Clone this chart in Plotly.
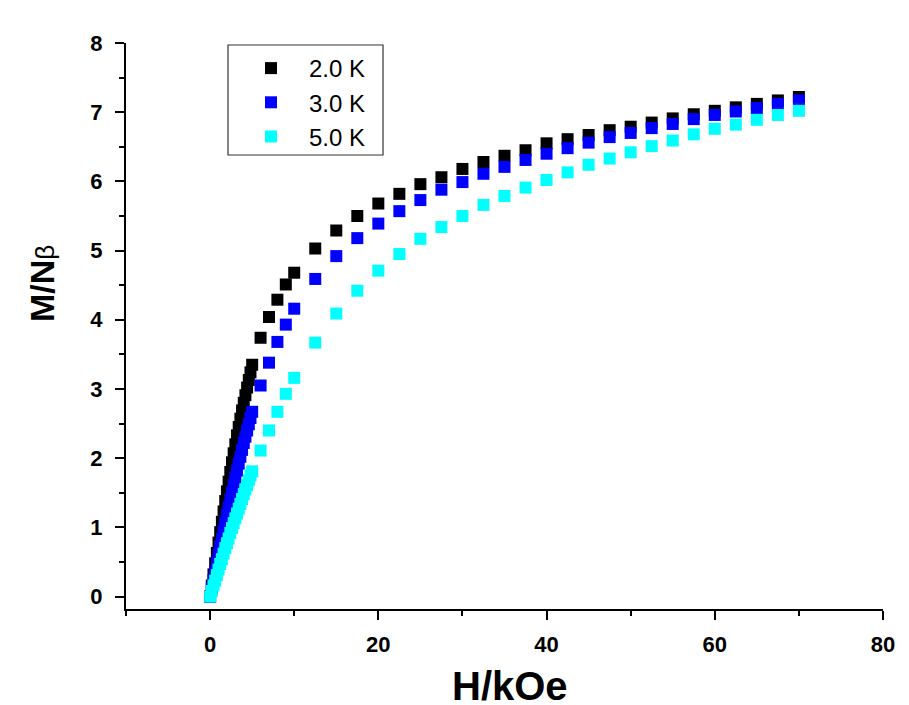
import plotly.graph_objects as go

# ---- data ----
H_low = [0.0, 0.2, 0.4, 0.6, 0.8, 1.0, 1.2, 1.4, 1.6, 1.8, 2.0, 2.2, 2.4, 2.6, 2.8,
         3.0, 3.2, 3.4, 3.6, 3.8, 4.0, 4.2, 4.4, 4.6, 4.8, 5.0]
H_high = [6, 7, 8, 9, 10, 12.5, 15, 17.5, 20, 22.5, 25, 27.5, 30, 32.5, 35, 37.5,
          40, 42.5, 45, 47.5, 50, 52.5, 55, 57.5, 60, 62.5, 65, 67.5, 70]
H_kOe = H_low + H_high

M_2K = [0.00, 0.16, 0.32, 0.48, 0.63, 0.78, 0.93, 1.08, 1.23, 1.38, 1.52, 1.66, 1.80,
        1.94, 2.07, 2.20, 2.33, 2.45, 2.57, 2.69, 2.80, 2.91, 3.02, 3.13, 3.24, 3.35,
        3.74, 4.04, 4.29, 4.51, 4.68, 5.03, 5.29, 5.50, 5.68, 5.82, 5.96, 6.06, 6.18,
        6.28, 6.37, 6.45, 6.55, 6.61, 6.67, 6.74, 6.79, 6.85, 6.91, 6.97, 7.02, 7.07,
        7.12, 7.17, 7.22]
M_3K = [0.00, 0.12, 0.24, 0.36, 0.48, 0.60, 0.72, 0.83, 0.95, 1.06, 1.18, 1.29, 1.40,
        1.51, 1.61, 1.72, 1.82, 1.92, 2.02, 2.12, 2.22, 2.31, 2.40, 2.49, 2.58, 2.67,
        3.05, 3.38, 3.68, 3.93, 4.16, 4.59, 4.92, 5.18, 5.39, 5.57, 5.73, 5.88, 5.99,
        6.11, 6.21, 6.31, 6.40, 6.48, 6.56, 6.64, 6.70, 6.77, 6.83, 6.90, 6.96, 7.01,
        7.06, 7.12, 7.17]
M_5K = [0.00, 0.08, 0.16, 0.23, 0.31, 0.39, 0.47, 0.54, 0.62, 0.70, 0.77, 0.84, 0.92,
        0.99, 1.06, 1.13, 1.20, 1.27, 1.34, 1.41, 1.48, 1.55, 1.61, 1.68, 1.75, 1.81,
        2.11, 2.40, 2.67, 2.93, 3.16, 3.67, 4.09, 4.42, 4.71, 4.95, 5.17, 5.34, 5.50,
        5.66, 5.79, 5.91, 6.02, 6.13, 6.24, 6.33, 6.42, 6.51, 6.59, 6.68, 6.76, 6.82,
        6.89, 6.96, 7.02]

series_names = ["2.0 K", "3.0 K", "5.0 K"]
series_values = [M_2K, M_3K, M_5K]
series_colors = ["#000000", "#0000FF", "#00FFFF"]

FONT = "Arial, 'Liberation Sans', sans-serif"

fig = go.Figure()
for name, vals, col in zip(series_names, series_values, series_colors):
    fig.add_trace(go.Scatter(
        x=H_kOe, y=vals, mode="markers", name=name, legendgroup=name,
        marker=dict(symbol="square", size=12, color=col, line=dict(width=0)),
    ))

# page has an 8px body margin, so the figure is drawn 8px smaller and offset
OFF = 8
W, Hh = 909 - OFF, 705 - OFF
L, R, T, B = 126 - OFF, 26, 43 - OFF, 96
pw = W - L - R
ph = Hh - T - B

def px(xp):  # reference screenshot x -> paper
    return (xp - OFF - L) / pw

def py(yp):  # reference screenshot y -> paper
    return (Hh - B - (yp - OFF)) / ph

axis_common = dict(
    showline=True, linewidth=2, linecolor="black", mirror=False,
    showgrid=False, zeroline=False,
    ticks="outside", ticklen=9, tickwidth=2, tickcolor="black",
    tickfont=dict(family=FONT, size=22, color="black", weight="bold"),
)

fig.update_layout(
    width=W, height=Hh,
    margin=dict(l=L, r=R, t=T, b=B),
    paper_bgcolor="white", plot_bgcolor="white",
    showlegend=True,
    legend=dict(
        x=px(233), y=py(46), xanchor="left", yanchor="top",
        bgcolor="rgba(0,0,0,0)", borderwidth=0,
        font=dict(family=FONT, size=24, color="black"),
        itemwidth=66, traceorder="normal",
    ),
    xaxis=dict(range=[-10, 80], tick0=0, dtick=20,
               minor=dict(dtick=10, tick0=0, ticks="outside", ticklen=5, tickwidth=2, tickcolor="black"),
               ticklabelstandoff=6,
               **axis_common),
    yaxis=dict(range=[-0.18, 8], tick0=0, dtick=1,
               minor=dict(dtick=0.5, tick0=0, ticks="outside", ticklen=5, tickwidth=2, tickcolor="black"),
               ticklabelstandoff=8,
               **axis_common),
    shapes=[dict(type="rect", xref="paper", yref="paper",
                 x0=px(228), x1=px(383), y0=py(155), y1=py(45),
                 line=dict(color="#333333", width=1.2), fillcolor="rgba(0,0,0,0)")],
    annotations=[
        dict(text="<b>M/N</b><span style='font-size:26px'>β</span>", xref="paper", yref="paper",
             x=px(42), y=py(284),
             textangle=-90, showarrow=False, xanchor="center", yanchor="middle",
             font=dict(family=FONT, size=34, color="black")),
        dict(text="<b>H/kOe</b>", xref="paper", yref="paper", x=px(510), y=py(686),
             showarrow=False, xanchor="center", yanchor="middle",
             font=dict(family=FONT, size=40, color="black")),
    ],
)

fig.write_html("out.html")
